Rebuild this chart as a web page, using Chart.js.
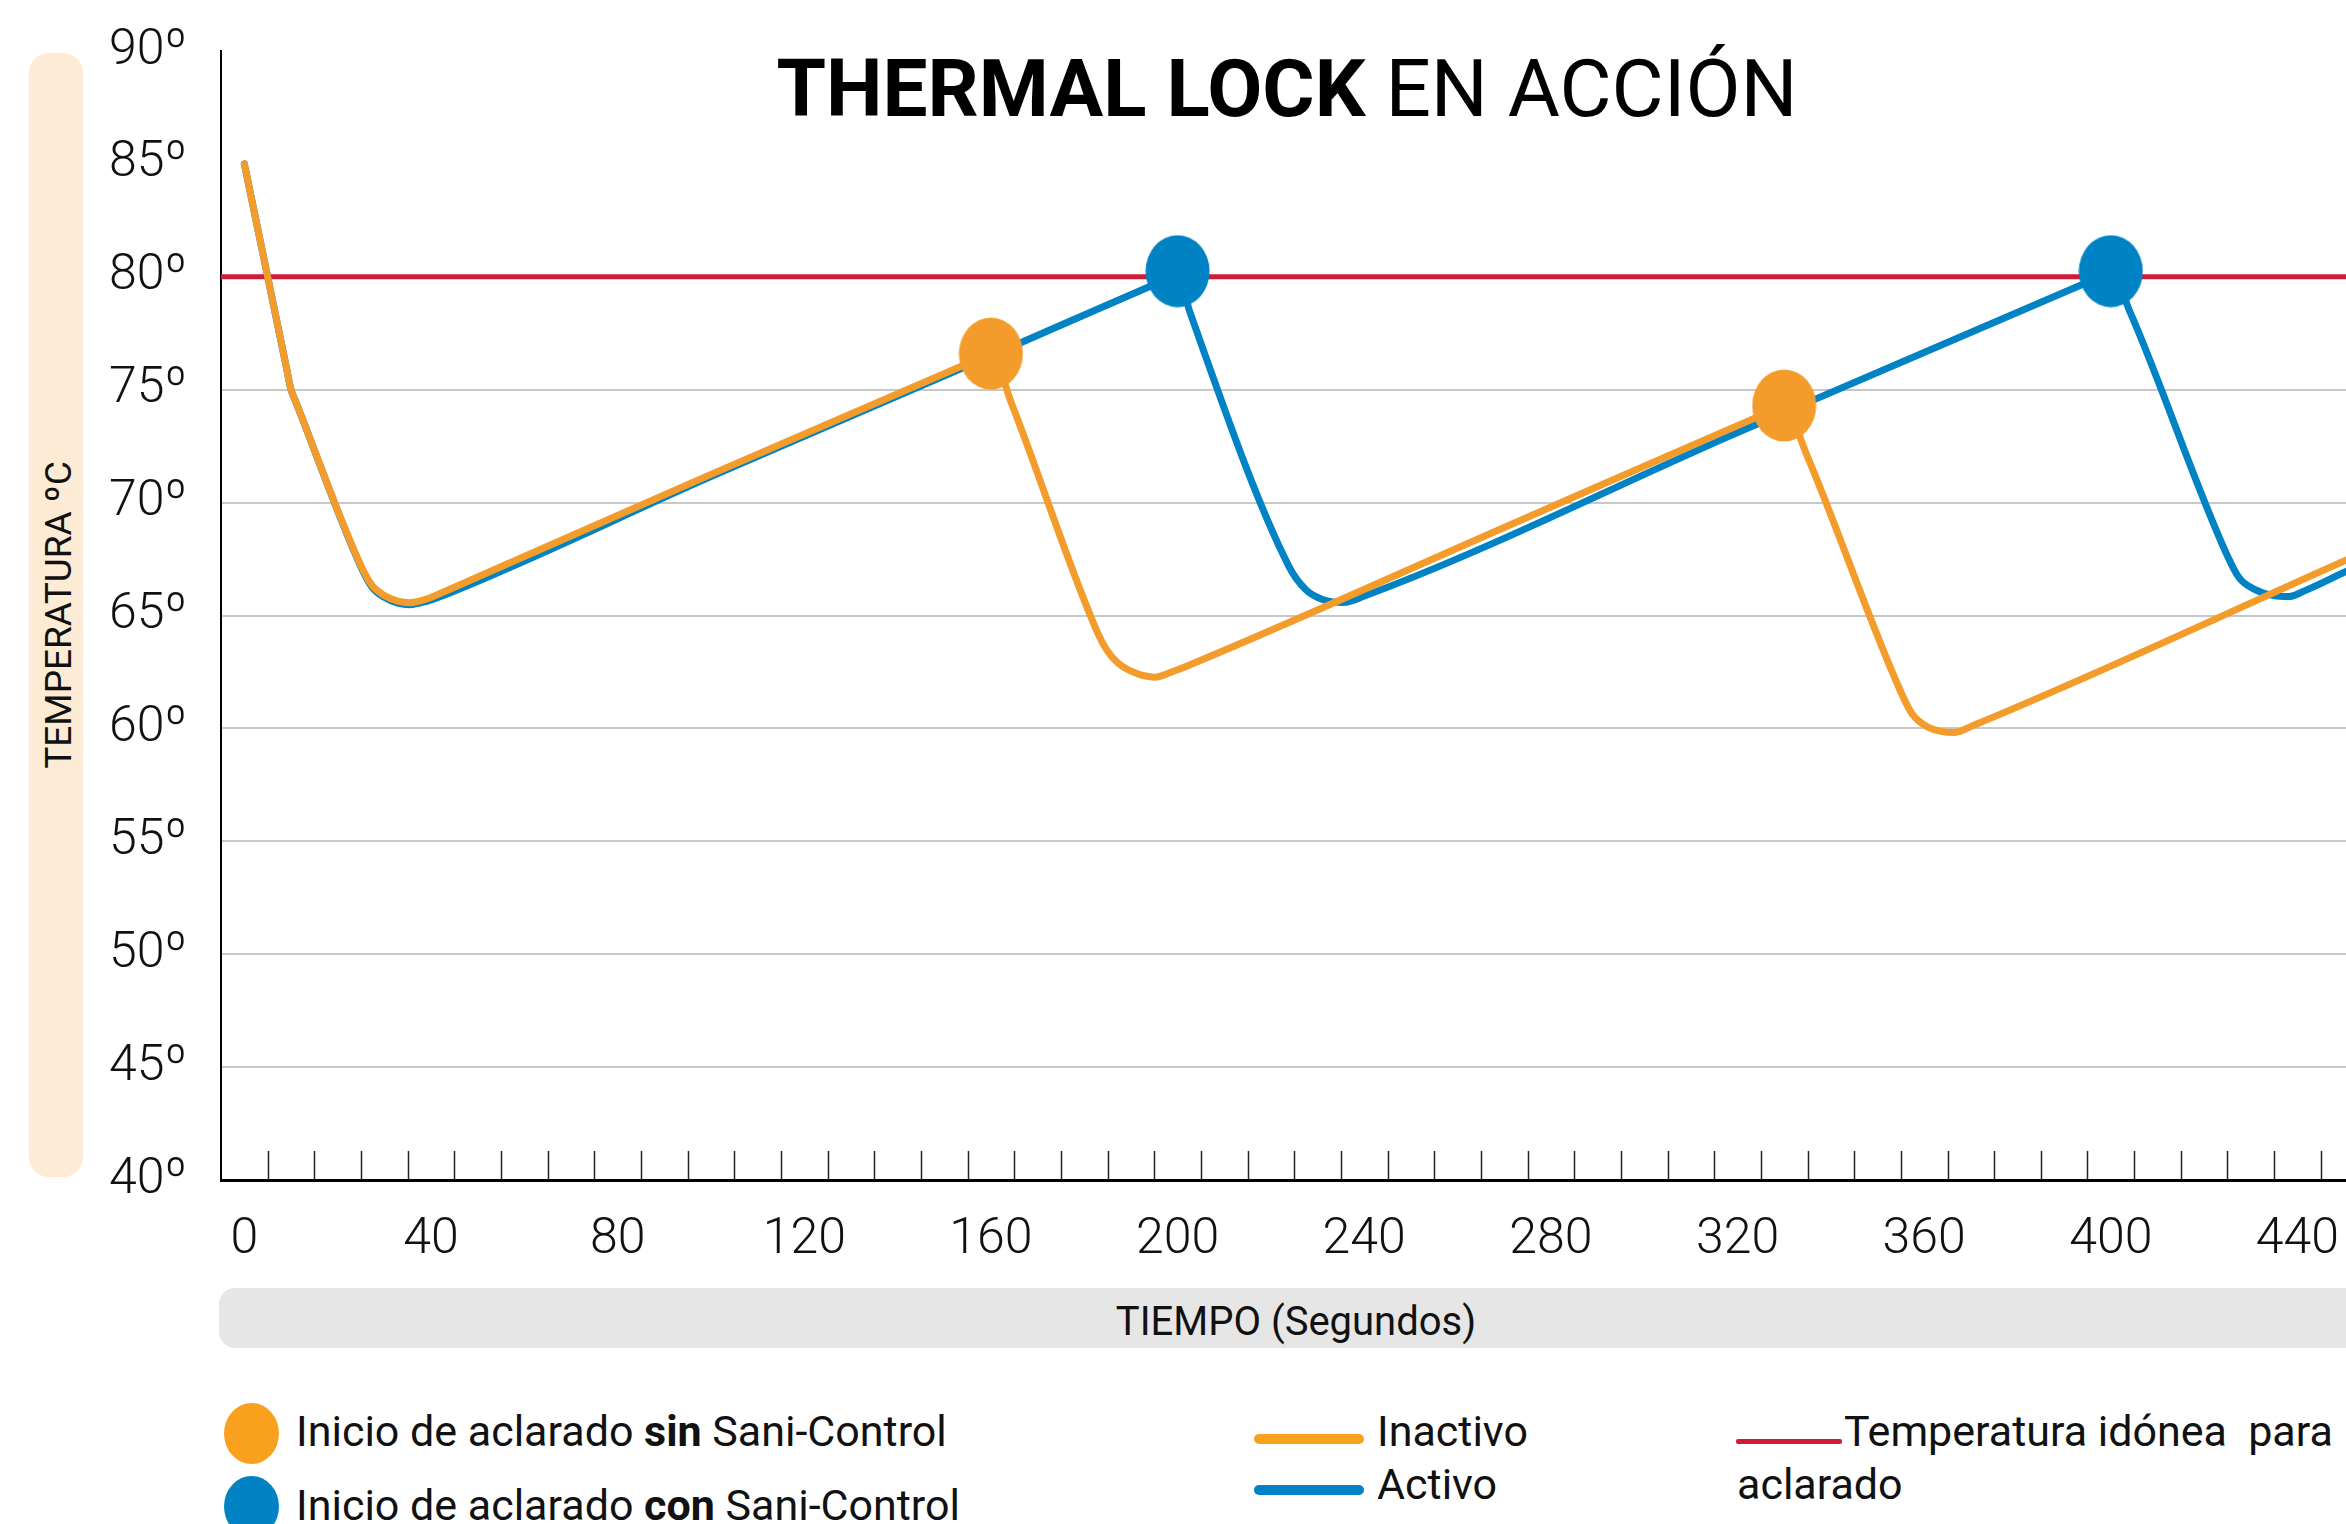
<!DOCTYPE html>
<html>
<head>
<meta charset="utf-8">
<script src="https://cdn.jsdelivr.net/npm/chart.js"></script>
<style>
html,body{margin:0;padding:0;background:#fff;}
#wrap{position:relative;width:2346px;height:1524px;overflow:hidden;font-family:Roboto,"Noto Sans",sans-serif;color:#111;}
#c{position:absolute;left:0;top:0;}
.abs{position:absolute;white-space:pre;line-height:1;}
</style>
</head>
<body>
<div id="wrap">
  <div class="abs" style="left:29px;top:53px;width:54px;height:1124px;background:#FDEBD5;border-radius:20px;"></div>
  <div class="abs" style="left:58px;top:615px;transform:translate(-50%,-50%) rotate(-90deg);font-size:37px;">TEMPERATURA ºC</div>
  <div class="abs" style="left:219px;top:1288px;width:2250px;height:60px;background:#E6E6E6;border-radius:16px;"></div>
  <div class="abs" style="left:1296px;top:1302px;transform:translateX(-50%);font-size:40px;">TIEMPO (Segundos)</div>
  <div class="abs" style="left:1287px;top:49px;transform:translateX(-50%);font-size:80px;color:#000;"><b style="font-weight:700">THERMAL LOCK</b> EN ACCIÓN</div>

  <div class="abs" style="left:224px;top:1403px;width:55px;height:61px;border-radius:50%;background:#F9A11F;"></div>
  <div class="abs" style="left:224px;top:1476px;width:55px;height:61px;border-radius:50%;background:#0082C4;"></div>
  <div class="abs" style="left:296px;top:1410px;font-size:43px;">Inicio de aclarado <b>sin</b> Sani-Control</div>
  <div class="abs" style="left:296px;top:1484px;font-size:43px;">Inicio de aclarado <b>con</b> Sani-Control</div>

  <div class="abs" style="left:1254px;top:1434px;width:110px;height:10px;border-radius:5px;background:#F9A11F;"></div>
  <div class="abs" style="left:1254px;top:1485px;width:110px;height:10px;border-radius:5px;background:#0082C4;"></div>
  <div class="abs" style="left:1377px;top:1410px;font-size:43px;">Inactivo</div>
  <div class="abs" style="left:1377px;top:1463px;font-size:43px;">Activo</div>

  <div class="abs" style="left:1736px;top:1439px;width:106px;height:5px;border-radius:2px;background:#D01C35;"></div>
  <div class="abs" style="left:1844px;top:1410px;font-size:43px;">Temperatura idónea  para</div>
  <div class="abs" style="left:1737px;top:1463px;font-size:43px;">aclarado</div>

  <canvas id="c" width="2346" height="1524"></canvas>
</div>
<script>
// ---- data ----
const xMin = -5;
const xMax = 450.4;
const xTickLabels = [0, 40, 80, 120, 160, 200, 240, 280, 320, 360, 400, 440];
const xMinorTicks = [5, 15, 25, 35, 45, 55, 65, 75, 85, 95, 105, 115, 125, 135, 145, 155, 165, 175, 185, 195, 205, 215, 225, 235, 245, 255, 265, 275, 285, 295, 305, 315, 325, 335, 345, 355, 365, 375, 385, 395, 405, 415, 425, 435, 445];
const yTickLabels = [40, 45, 50, 55, 60, 65, 70, 75, 80, 85, 90];
const yNoGrid = [40, 85, 90];

const inactivoTime = [0, 9, 10, 11, 25, 27.4, 29.9, 32.9, 35.5, 39.1, 42.2, 100, 156, 160, 164.4, 182.9, 184.8, 187.2, 191.0, 195.1, 199.0, 202.7, 270, 326, 330, 334.7, 355.1, 357.5, 360.8, 366.5, 370.6, 450.4];
const inactivoTemp = [85.0, 76.0, 75.0, 74.48, 67.2, 66.32, 65.9, 65.64, 65.57, 65.73, 66.0, 71.25, 76.25, 76.6, 74.4, 64.22, 63.48, 62.9, 62.45, 62.27, 62.52, 62.82, 68.9, 73.95, 74.3, 72.18, 61.57, 60.62, 60.06, 59.82, 60.14, 67.45];

const activoTime = [0, 9, 10, 11, 25, 27.4, 29.9, 32.9, 35.5, 39.1, 42.2, 100, 160, 196, 200, 202.7, 223.8, 227.5, 231.2, 235.6, 239.9, 320, 396, 400, 404.2, 425.1, 427.6, 430.8, 434.9, 438.1, 441.4, 450.4];
const activoTemp = [85.0, 76.0, 75.0, 74.48, 67.15, 66.25, 65.82, 65.55, 65.48, 65.63, 65.85, 71.15, 76.5, 79.75, 80.1, 78.4, 67.2, 66.14, 65.7, 65.58, 65.85, 73.1, 79.85, 80.2, 78.4, 67.59, 66.64, 66.16, 65.88, 65.84, 66.08, 66.95];

const sinTime = [160, 330];
const sinTemp = [76.6, 74.3];
const conTime = [200, 400];
const conTemp = [80.25, 80.25];

const idealTime = [xMin, xMax];
const idealTemp = [80, 80];

// ---- helpers ----
const pts = (t, v) => t.map((x, i) => ({ x: x, y: v[i] }));
function ellipseImg(color, w, h) {
  const c = document.createElement('canvas');
  c.width = w; c.height = h;
  const g = c.getContext('2d');
  g.fillStyle = color;
  g.beginPath();
  g.ellipse(w / 2, h / 2, w / 2 - 0.5, h / 2 - 0.5, 0, 0, Math.PI * 2);
  g.fill();
  return c;
}
const ORANGE = '#F39C2B';
const BLUE = '#0083C5';
const RED = '#D01C35';
const CLEAR = 'rgba(0,0,0,0)';

const minorTicksPlugin = {
  id: 'minorTicks',
  afterDatasetsDraw(chart) {
    const xs = chart.scales.x, ys = chart.scales.y, ctx = chart.ctx;
    const yb = ys.getPixelForValue(40);
    ctx.save();
    ctx.strokeStyle = '#222';
    ctx.lineWidth = 1.5;
    xMinorTicks.forEach(v => {
      const px = Math.round(xs.getPixelForValue(v)) + 0.5;
      ctx.beginPath();
      ctx.moveTo(px, yb);
      ctx.lineTo(px, yb - 29);
      ctx.stroke();
    });
    ctx.restore();
  }
};

const lineBase = {
  type: 'line',
  fill: false,
  pointRadius: 0,
  pointHoverRadius: 0,
  borderJoinStyle: 'round',
  borderCapStyle: 'round',
  cubicInterpolationMode: 'monotone'
};

new Chart(document.getElementById('c'), {
  type: 'line',
  data: {
    datasets: [
      Object.assign({}, lineBase, { label: 'Temperatura idónea para aclarado', data: pts(idealTime, idealTemp), borderColor: RED, borderWidth: 5, cubicInterpolationMode: 'default', tension: 0, order: 3 }),
      Object.assign({}, lineBase, { label: 'Activo', data: pts(activoTime, activoTemp), borderColor: BLUE, borderWidth: 7, order: 2 }),
      Object.assign({}, lineBase, { label: 'Inactivo', data: pts(inactivoTime, inactivoTemp), borderColor: ORANGE, borderWidth: 7, order: 1 }),
      { type: 'scatter', label: 'Inicio de aclarado con Sani-Control', data: pts(conTime, conTemp), pointStyle: ellipseImg(BLUE, 65, 73), pointRadius: 30, backgroundColor: BLUE, borderWidth: 0, showLine: false, order: 0 },
      { type: 'scatter', label: 'Inicio de aclarado sin Sani-Control', data: pts(sinTime, sinTemp), pointStyle: ellipseImg(ORANGE, 65, 73), pointRadius: 30, backgroundColor: ORANGE, borderWidth: 0, showLine: false, order: 0 }
    ]
  },
  options: {
    responsive: false,
    devicePixelRatio: 1,
    animation: false,
    events: [],
    layout: { autoPadding: false, padding: { top: 51, left: 0, right: 0, bottom: 0 } },
    plugins: { legend: { display: false }, tooltip: { enabled: false }, title: { display: false } },
    scales: {
      x: {
        type: 'linear',
        min: xMin,
        max: xMax,
        afterBuildTicks: s => { s.ticks = xTickLabels.map(v => ({ value: v })); },
        afterFit: s => { s.height = 344; },
        grid: { display: true, drawOnChartArea: false, drawTicks: true, tickLength: 30, color: CLEAR, tickColor: CLEAR },
        border: { display: true, color: '#000', width: 3 },
        ticks: { color: '#111', font: { family: 'Roboto', size: 50, weight: 300 }, padding: 0, maxRotation: 0, autoSkip: false }
      },
      y: {
        type: 'linear',
        min: 40,
        max: 90,
        afterBuildTicks: s => { s.ticks = yTickLabels.map(v => ({ value: v })); },
        afterFit: s => { s.width = 221; },
        grid: { color: c => (c.tick && yNoGrid.includes(c.tick.value)) ? CLEAR : '#C8C8C8', lineWidth: 2, drawTicks: true, tickLength: 34, tickColor: CLEAR },
        border: { display: true, color: '#000', width: 2 },
        ticks: { color: '#111', font: { family: 'Roboto', size: 50, weight: 300 }, padding: 0, callback: v => v + 'º' }
      }
    }
  },
  plugins: [minorTicksPlugin]
});
</script>
</body>
</html>
